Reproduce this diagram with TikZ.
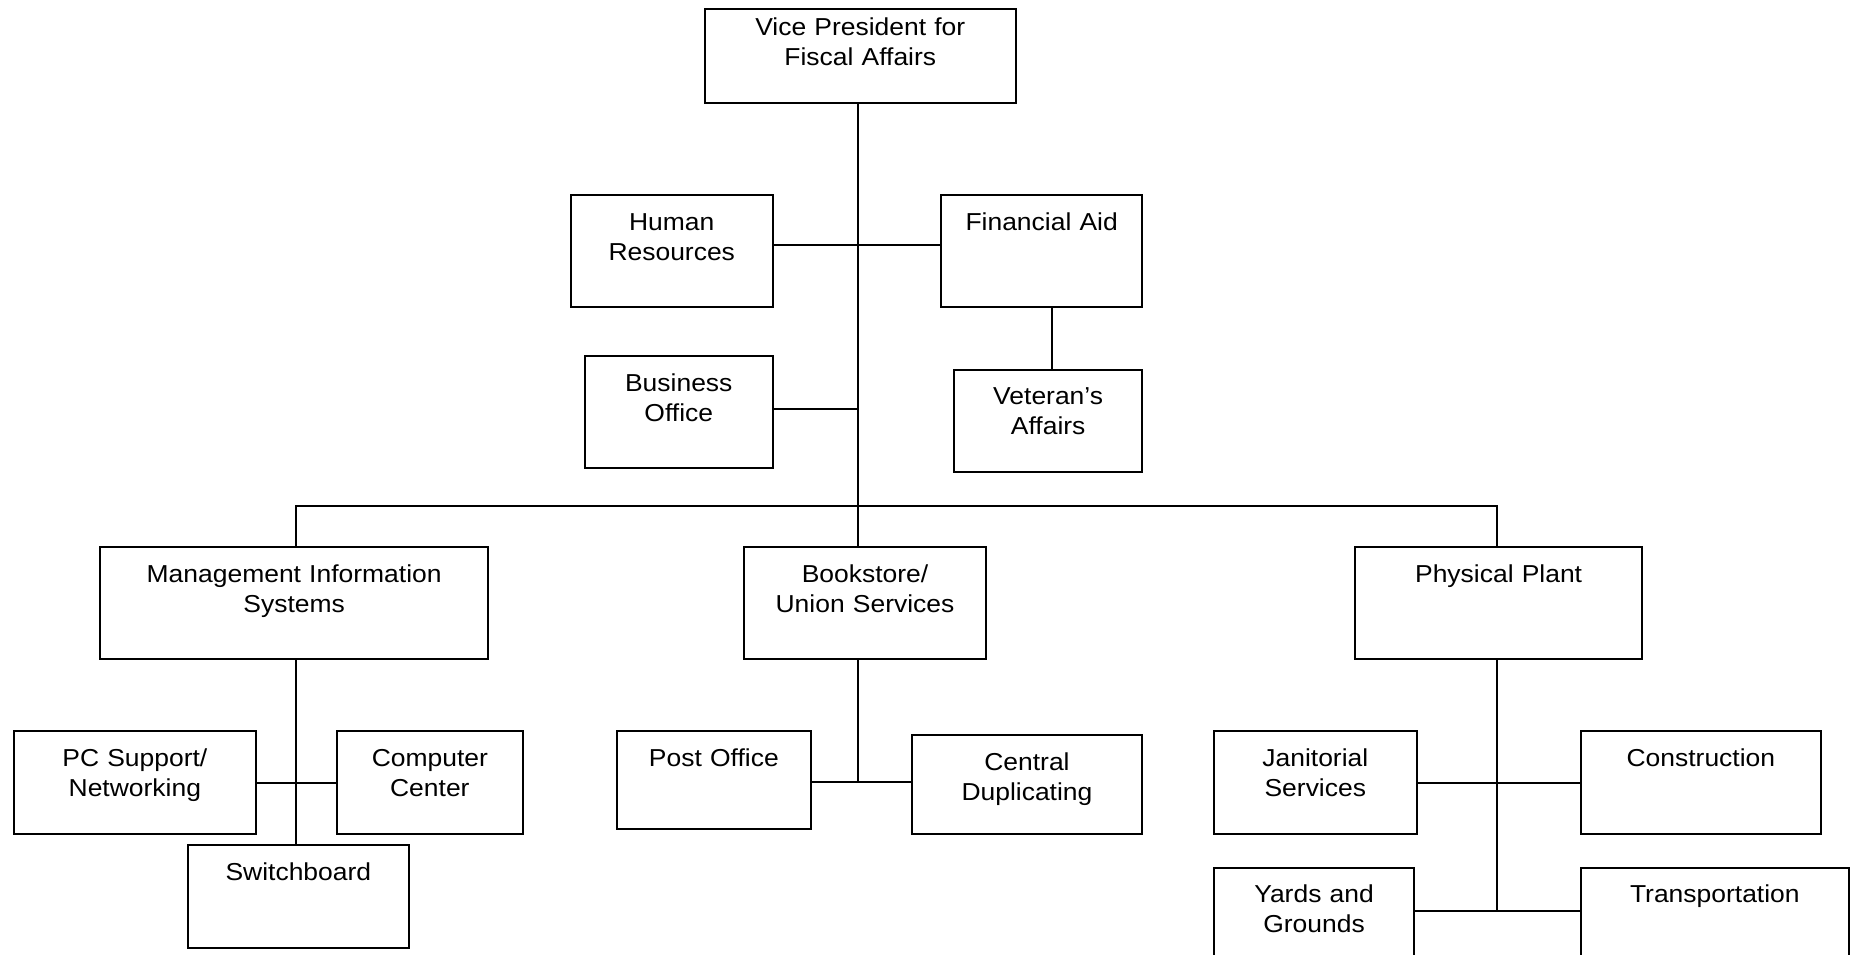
\documentclass[tikz,border=0pt]{standalone}
\usepackage{fontspec}
\setmainfont{Liberation Sans}[FakeStretch=1.08]
\begin{document}
\begin{tikzpicture}[x=1pt,y=-1pt,
  font=\fontsize{24.5}{30}\selectfont,
  line width=2pt,
  orgbox/.style 2 args={draw, line width=2pt, inner sep=0pt, anchor=north west,
    align=center, text width=#1pt, text height=35pt, text depth=#2pt-35pt},
  link/.style={draw, line width=2pt}]
\clip (0,0) rectangle (1854,954);
\fill[white] (0,0) rectangle (1854,954);

% top of the organisation
\node[orgbox={311.5}{93.5}, text height=26pt, text depth=67.5pt] (vp) at (703.5,8.3) {Vice President for\\Fiscal Affairs};

% offices reporting directly
\node[orgbox={201.5}{111.5}] (hr)  at (570,194.3)   {Human\\Resources};
\node[orgbox={200.7}{111.5}] (fa)  at (940.3,194.3) {Financial Aid};
\node[orgbox={187.5}{111.5}] (bo)  at (584,355)     {Business\\Office};
\node[orgbox={188.3}{102.3}] (vet) at (953,368.5)   {Veteran’s\\Affairs};

% departments
\node[orgbox={387.9}{112.3}] (mis) at (99.2,546) {Management Information\\Systems};
\node[orgbox={242}{112.3}]   (bk)  at (743,546)  {Bookstore/\\Union Services};
\node[orgbox={287.2}{112.3}] (pp)  at (1354,546) {Physical Plant};

% units under Management Information Systems
\node[orgbox={242.3}{102.4}] (pc) at (12.7,730.3)  {PC Support/\\Networking};
\node[orgbox={186.3}{102.4}] (cc) at (335.7,730.3) {Computer\\Center};
\node[orgbox={221.3}{102.4}] (sw) at (186.7,844.3) {Switchboard};

% units under Bookstore/Union Services
\node[orgbox={193.7}{98}]   (po) at (616,730.3)   {Post Office};
\node[orgbox={230.3}{98.4}] (cd) at (910.8,734.3) {Central\\Duplicating};

% units under Physical Plant
\node[orgbox={202.6}{102.4}] (jan) at (1213,730.3)   {Janitorial\\Services};
\node[orgbox={240.5}{102.4}] (con) at (1579.6,730.3) {Construction};
\node[orgbox={200.1}{102}]   (yg)  at (1213,866.7)   {Yards and\\Grounds};
\node[orgbox={268.4}{102}]   (trn) at (1579.6,866.7) {Transportation};

% main trunk
\draw[link] ([xshift=-2]vp.south) coordinate (tr) -- (tr |- bk.north);
\draw[link] ([yshift=5.7]hr.east) coordinate (h1) -- (h1 -| fa.west);
\draw[link] ([yshift=2.4]bo.east) coordinate (b1) -- (b1 -| tr);
\draw[link] ([xshift=10.6]fa.south) coordinate (f1) -- (f1 |- vet.north);

% bus to the departments
\draw[link] ([xshift=1.9]mis.north) -- ++(0,-40) -| ([xshift=-1.9]pp.north);

% Management Information Systems branch
\draw[link] ([xshift=1.9]mis.south) coordinate (m1) -- (m1 |- sw.north);
\draw[link] (pc.east) -- (cc.west);

% Bookstore branch
\draw[link] ([yshift=-1.7]po.east) coordinate (p1) -- (p1 -| cd.west);
\draw[link] (tr |- bk.south) -- (tr |- p1);

% Physical Plant branch
\draw[link] ([yshift=7.5]yg.east) coordinate (y1) -- (y1 -| trn.west);
\draw[link] ([xshift=-1.9]pp.south) coordinate (pp1) -- (pp1 |- y1);
\draw[link] (jan.east) -- (con.west);
\end{tikzpicture}
\end{document}
